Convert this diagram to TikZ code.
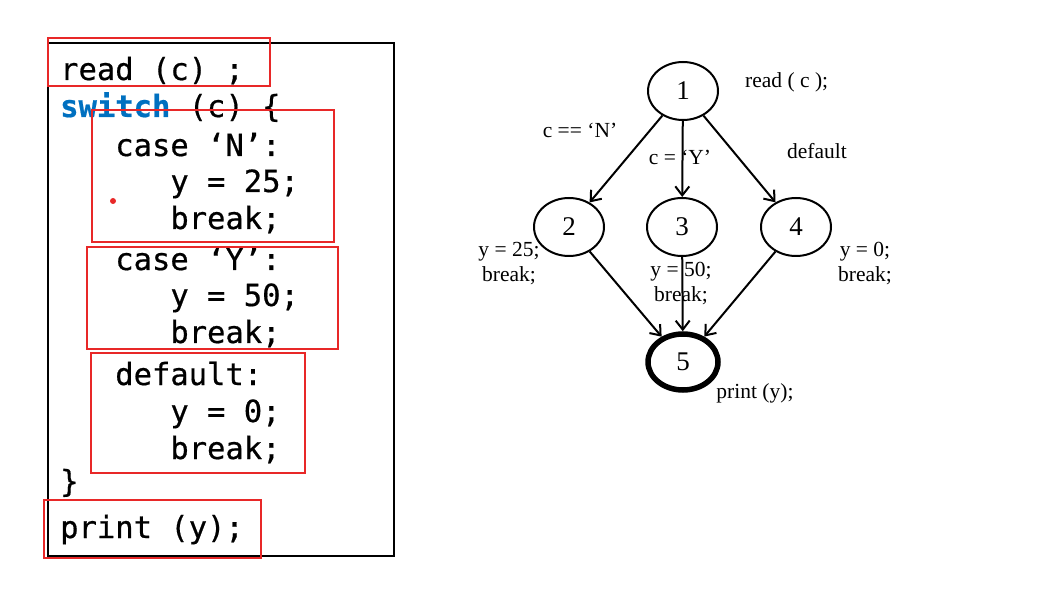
\documentclass[tikz,border=0pt]{standalone}
\usepackage{fontspec}
\setmainfont{Liberation Serif}
\newfontfamily\codefont[FakeBold=0.6]{DejaVu Sans Mono}
\usetikzlibrary{shapes.geometric,arrows.meta}
\definecolor{kwblue}{RGB}{0,112,192}
\definecolor{boxred}{RGB}{232,40,40}

\begin{document}
\begin{tikzpicture}
[
x=1pt, y=-1pt,
codeline/.style={font=\codefont\fontsize{30.5}{36}\selectfont, anchor=base west, inner sep=0pt},
hilite/.style={draw=boxred, line width=1.2pt},
state/.style={ellipse, draw, line width=2pt, minimum width=70pt, minimum height=58pt, inner sep=0pt, font=\fontsize{27}{30}\selectfont},
lbl/.style={font=\fontsize{21.5}{25}\selectfont, inner sep=0pt, align=center},
every edge/.style={draw, line width=2pt, -{Straight Barb[length=9pt,width=14pt]}}
]
\useasboundingbox (0,0) rectangle (1057,601);

% code listing
\draw[line width=1.4pt] (48,43) rectangle (394,556);
\node[codeline] (l1) at (60,80) {read (c) ;};
\node[codeline] (l2) at (60,117) {\textcolor{kwblue}{\bfseries switch} (c) \{};
\node[codeline] (l3) at (60,156) {\ \ \ case ‘N’:};
\node[codeline] (l4) at (60,192) {\ \ \ \ \ \ y = 25;};
\node[codeline] (l5) at (60,229) {\ \ \ \ \ \ break;};
\node[codeline] (l6) at (60,270) {\ \ \ case ‘Y’:};
\node[codeline] (l7) at (60,306) {\ \ \ \ \ \ y = 50;};
\node[codeline] (l8) at (60,343) {\ \ \ \ \ \ break;};
\node[codeline] (l9) at (60,385) {\ \ \ default:};
\node[codeline] (l10) at (60,422) {\ \ \ \ \ \ y = 0;};
\node[codeline] (l11) at (60,459) {\ \ \ \ \ \ break;};
\node[codeline] (l12) at (60,492) {\}};
\node[codeline] (l13) at (60,538) {print (y);};

% red boxes
\draw[hilite] (48,38) rectangle (270,86);
\draw[hilite] (92,110) rectangle (334,242);
\draw[hilite] (87,247) rectangle (338,349);
\draw[hilite] (91,353) rectangle (305,473);
\draw[hilite] (44,500) rectangle (261,558);
\fill[boxred] (113,201) circle (3pt);

% control flow graph
\node[state] (n1) at (683,91) {1};
\node[state] (n2) at (569,227) {2};
\node[state] (n3) at (682,227) {3};
\node[state] (n4) at (796,227) {4};
\node[state, line width=5.5pt, minimum width=70pt, minimum height=56pt] (n5) at (683,362) {5};

\draw (n1) edge (n2)
      (n1) edge (n3)
      (n1) edge (n4)
      (n2) edge (n5)
      (n3) edge (n5)
      (n4) edge (n5);

\node[lbl, anchor=west] (t1) at (745,82) {read ( c );};
\node[lbl] (tN) at (580,130) {c == ‘N’};
\node[lbl] (tY) at (680,157) {c = ‘Y’};
\node[lbl] (tD) at (817,151) {default};
\node[lbl] (t2) at (509,264) {y = 25;\\break;};
\node[lbl] (t3) at (681,284) {y = 50;\\break;};
\node[lbl] (t4) at (865,264) {y = 0;\\break;};
\node[lbl] (t5) at (755,393) {print (y);};
\end{tikzpicture}
\end{document}
